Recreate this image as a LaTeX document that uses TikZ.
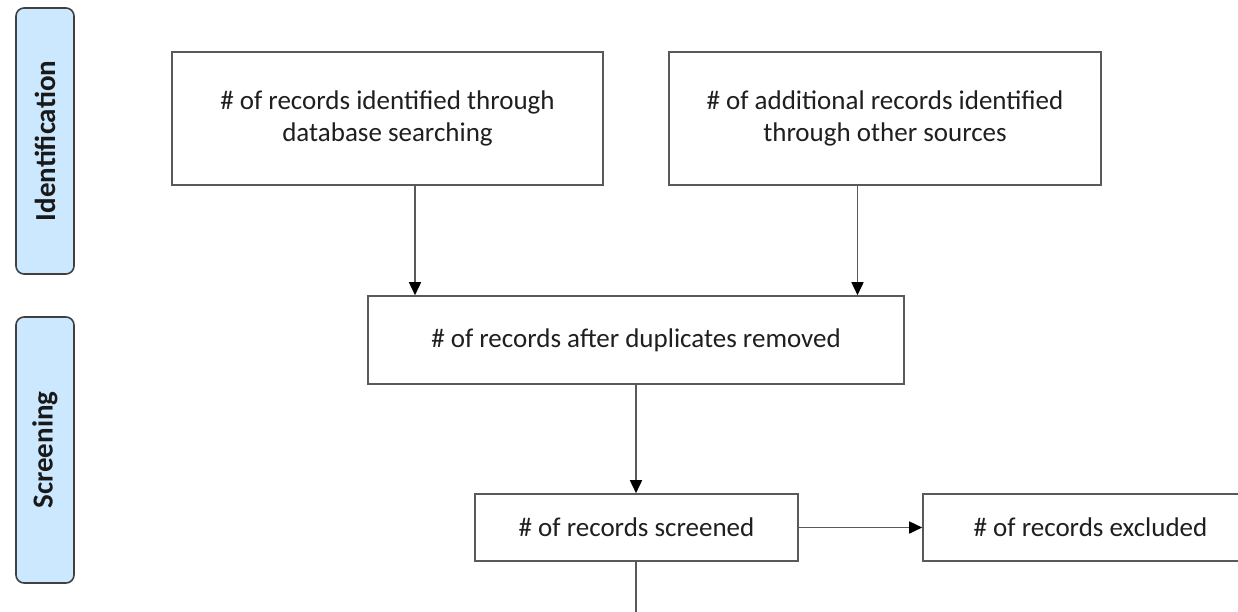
\documentclass[tikz,border=0pt]{standalone}
\usepackage{fontspec}
\setmainfont{Carlito}
\usetikzlibrary{arrows.meta,calc}
\definecolor{edge}{HTML}{595959}
\definecolor{lblfill}{HTML}{CCE8FF}
\begin{document}
\begin{tikzpicture}[x=1pt,y=-1pt,
  box/.style={draw=edge,line width=1.6pt,fill=white,inner sep=0pt,align=center,
    font=\fontsize{27}{32}\selectfont,text=black!88},
  lbl/.style={draw=black!75,line width=1.6pt,fill=lblfill,rounded corners=8pt,
    minimum width=58pt,minimum height=266pt,inner sep=0pt},
  lbltext/.style={rotate=90,font=\bfseries\fontsize{29}{34}\selectfont,text=black!90},
  arr/.style={draw=edge,line width=1.6pt,-{Triangle[length=13pt,width=12pt,color=black]}},
  ln/.style={draw=edge,line width=1.6pt}]
\useasboundingbox (0,0) rectangle (1238,611);
\clip (0,0) rectangle (1238,611);
% phase labels
\node[lbl] (idl) at (45,141) {};
\node[lbltext] (idt) at (idl.center) {Identification};
\node[lbl] (scl) at (45,450) {};
\node[lbltext] (sct) at (scl.center) {Screening};
% boxes
\node[box,minimum width=431pt,minimum height=133pt] (b1) at (387.5,118.5)
  {\# of records identified through\\database searching};
\node[box,minimum width=432pt,minimum height=133pt] (b2) at (885,118.5)
  {\# of additional records identified\\through other sources};
\node[box,minimum width=536pt,minimum height=88pt] (b3) at (636,340)
  {\# of records after duplicates removed};
\node[box,minimum width=323pt,minimum height=67pt] (b4) at (636.5,527.5)
  {\# of records screened};
\node[box,minimum width=335pt,minimum height=67pt] (b5) at (1090.5,527.5)
  {\# of records excluded};
% connectors
\coordinate (c1) at (415,0);
\coordinate (c2) at (857.5,0);
\coordinate (c3) at (636,0);
\coordinate (cend) at (636,620);
\draw[arr] (b1.south -| c1) -- (b3.north -| c1);
\draw[arr] (b2.south -| c2) -- (b3.north -| c2);
\draw[arr] (b3.south -| c3) -- (b4.north -| c3);
\draw[arr] (b4.east) -- (b5.west);
\draw[ln] (b4.south -| c3) -- (cend);
\end{tikzpicture}
\end{document}
